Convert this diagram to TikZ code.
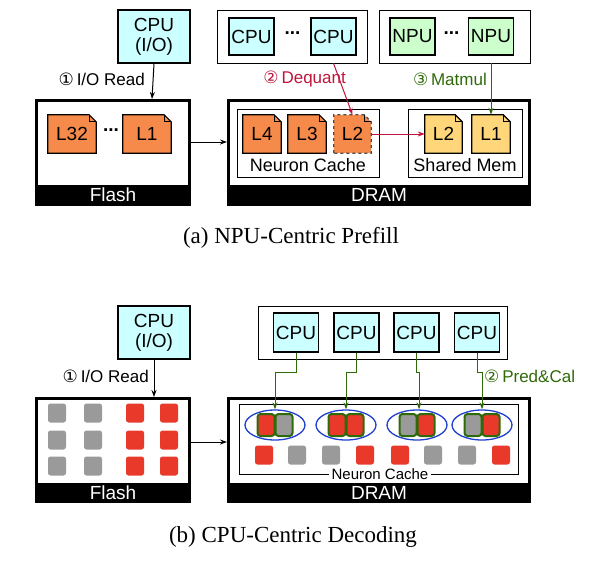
\documentclass[tikz,border=0pt]{standalone}
\usepackage{fontspec}
\setmainfont{Liberation Sans}
\newfontfamily\capfont{Liberation Serif}
\newfontfamily\dv{DejaVu Sans}
\usetikzlibrary{arrows.meta,shapes.geometric}
\definecolor{cyanf}{HTML}{CCFFFF}
\definecolor{greenf}{HTML}{CCFFCC}
\definecolor{orangef}{HTML}{F58A4B}
\definecolor{yellowf}{HTML}{FFD77A}
\definecolor{redf}{HTML}{E8392A}
\definecolor{grayf}{HTML}{9A9A9A}
\definecolor{dgreen}{HTML}{2F6A0A}
\definecolor{dred}{HTML}{C0143C}
\definecolor{eblue}{HTML}{1F3FD0}
\newcommand\fileshape[5]{%
  \node[minimum width=#3, minimum height=38, inner sep=0] (#1) at (#2) {};
  \draw[fill=#4, line width=1.2, #5] (#1.south west) -- (#1.north west) -- ([xshift=-7]#1.north east) -- ([yshift=-7]#1.north east) -- (#1.south east) -- cycle;
  \draw[line width=0.8] ([xshift=-7]#1.north east) -- ([xshift=-7,yshift=-7]#1.north east) -- ([yshift=-7]#1.north east);
}
\begin{document}
\begin{tikzpicture}[x=1pt,y=-1pt,
  unit/.style={draw, line width=1.2, minimum width=45, minimum height=37, inner sep=0, font=\fontsize{19}{20}\selectfont},
  grp/.style={draw, line width=0.7},
  mem/.style={draw, line width=3},
  band/.style={fill=black, text=white, font=\fontsize{19}{19}\selectfont, inner sep=0},
  lab/.style={font=\fontsize{17}{17}\selectfont, inner sep=0},
  ftxt/.style={font=\fontsize{19}{19}\selectfont},
  sq/.style={rounded corners=2.5, minimum width=18, minimum height=19, inner sep=0},
  pair/.style={draw=dgreen, line width=2, rounded corners=3, minimum width=17, minimum height=22, inner sep=0},
  arr/.style={-{Stealth[length=7,width=5]}, line width=1},
  captxt/.style={font=\capfont\fontsize{23}{23}\selectfont}]
\useasboundingbox (0,0) rectangle (601,563);
% ===== (a) =====
\node[unit, fill=cyanf, minimum width=72, minimum height=53, align=center] (cpuio) at (154,36.5) {CPU\\(I/O)};
\node[grp, minimum width=150, minimum height=53] (cg) at (292,36.5) {};
\node[unit, fill=cyanf] (c1) at (251.5,36.5) {CPU};
\node[unit, fill=cyanf] (c2) at (333.5,36.5) {CPU};
\node[ftxt, font=\fontsize{19}{19}\selectfont\bfseries] (cd) at (292.5,33) {...};
\node[grp, minimum width=151, minimum height=53] (ng) at (454.5,36.5) {};
\node[unit, fill=greenf] (n1) at (412.5,36.5) {NPU};
\node[unit, fill=greenf] (n2) at (491,36.5) {NPU};
\node[font=\fontsize{19}{19}\selectfont\bfseries] (nd) at (451.5,33) {...};
% Flash a
\draw[mem] (36.5,100.5) rectangle (189.5,204.5);
\node[band, minimum width=156, minimum height=21] (flashA) at (113,195) {Flash};
\coordinate (flashAtop) at (152,99);
\coordinate (flashAr) at (191,142);
% DRAM a
\draw[mem] (228.5,100.5) rectangle (529.5,204.5);
\node[band, minimum width=304, minimum height=21] (dramA) at (379,195) {DRAM};
\coordinate (dramAl) at (227,142);
\draw[line width=0.7] (237,109) rectangle (379,177);
\draw[line width=0.7] (408,109) rectangle (522,177);
\node[lab, font=\fontsize{18}{18}\selectfont] (nc) at (308,165) {Neuron Cache};
\node[lab, font=\fontsize{18}{18}\selectfont] (sm) at (465,165) {Shared Mem};
\fileshape{f32}{72,134}{48}{orangef}{}
\node[ftxt] at (f32) {L32};
\fileshape{f1}{147,134}{48}{orangef}{}
\node[ftxt] at (f1) {L1};
\node[font=\fontsize{19}{19}\selectfont\bfseries] (fd) at (111,130) {...};
\fileshape{l4}{262,134}{38}{orangef}{}
\node[ftxt] at (l4) {L4};
\fileshape{l3}{307,134}{38}{orangef}{}
\node[ftxt] at (l3) {L3};
\fileshape{l2}{352.5,134}{37}{orangef}{dashed, draw=black!70}
\node[ftxt] at (l2) {L2};
\fileshape{s2}{443.5,134}{37}{yellowf}{}
\node[ftxt] at (s2) {L2};
\fileshape{s1}{491,134}{38}{yellowf}{}
\node[ftxt] at (s1) {L1};
\draw[arr] (cpuio.south) -- (flashAtop);
\node[lab, anchor=east] at (145,79) {{\dv ①}\,I/O Read};
\draw[arr] (flashAr) -- (dramAl);
\draw[arr, draw=dred] (c2.south |- cg.south) -- (l2.north);
\node[lab, text=dred, anchor=east] at (346,79) {{\dv ②}\,Dequant};
\draw[arr, draw=dgreen] (n2.south |- ng.south) -- (s1.north);
\node[lab, text=dgreen, anchor=east] at (487,79) {{\dv ③}\,Matmul};
\draw[arr, draw=dred] (l2.east) -- (s2.west);
\node[captxt] (capA) at (291,238) {(a) NPU-Centric Prefill};
% ===== (b) =====
\node[unit, fill=cyanf, minimum width=72, minimum height=53, align=center] (cpuiob) at (154,332.5) {CPU\\(I/O)};
\node[grp, minimum width=249, minimum height=53] (cgb) at (382.5,332.5) {};
\node[unit, fill=cyanf, minimum height=39] (b1) at (296,332.5) {CPU};
\node[unit, fill=cyanf, minimum height=39] (b2) at (356.5,332.5) {CPU};
\node[unit, fill=cyanf, minimum height=39] (b3) at (416.5,332.5) {CPU};
\node[unit, fill=cyanf, minimum height=39] (b4) at (477,332.5) {CPU};
\draw[mem] (36.5,398.5) rectangle (189.5,501.5);
\node[band, minimum width=156, minimum height=20] (flashB) at (113,493) {Flash};
\coordinate (flashBtop) at (154,397);
\coordinate (flashBr) at (191,442);
\draw[mem] (228.5,398.5) rectangle (529.5,501.5);
\node[band, minimum width=304, minimum height=20] (dramB) at (379,493) {DRAM};
\coordinate (dramBl) at (227,442);
\draw[line width=0.7] (239,404) rectangle (518,474);
\node[lab, fill=white, inner xsep=3, font=\fontsize{15}{15}\selectfont] (ncb) at (380,474) {Neuron Cache};
% flash squares
\foreach \x/\c in {57/grayf,93/grayf,135/redf,169/redf}
  \foreach \y in {413,440,466}
    \node[sq, fill=\c] at (\x,\y) {};
% bottom row
\foreach \x/\c [count=\i] in {264/redf,297/grayf,331/grayf,365/redf,400/redf,433/grayf,467/grayf,501/redf}
  \node[sq, fill=\c] (r\i) at (\x,455) {};
% ellipses
\foreach \cx/\ca/\cb [count=\i] in {275/redf/grayf,346/redf/redf,417/grayf/redf,482/grayf/redf}{
  \node[draw=eblue, line width=1.3, ellipse, minimum width=60, minimum height=30, inner sep=0] (e\i) at (\cx,425) {};
  \node[pair, fill=\ca] (pa\i) at (\cx-9,425) {};
  \node[pair, fill=\cb] (pb\i) at (\cx+9,425) {};
}
\draw[arr] (cpuiob.south) -- (flashBtop);
\node[lab, anchor=east] at (149,376) {{\dv ①}\,I/O Read};
\draw[arr] (flashBr) -- (dramBl);
\draw[arr, draw=dgreen] (b1.south) -- ++(0,20) -| (e1.north);
\draw[arr, draw=dgreen] (b2.south) -- ++(0,20) -| (e2.north);
\draw[arr, draw=dgreen] (b3.south) -- ++(0,20) -| ([xshift=2]e3.north);
\draw[arr, draw=dgreen] (b4.south) -- ++(0,20) -| (e4.north);
\node[lab, text=dgreen, anchor=west] at (484,376) {{\dv ②}\,Pred\&Cal};
\node[captxt] (capB) at (293,537) {(b) CPU-Centric Decoding};
\end{tikzpicture}
\end{document}
